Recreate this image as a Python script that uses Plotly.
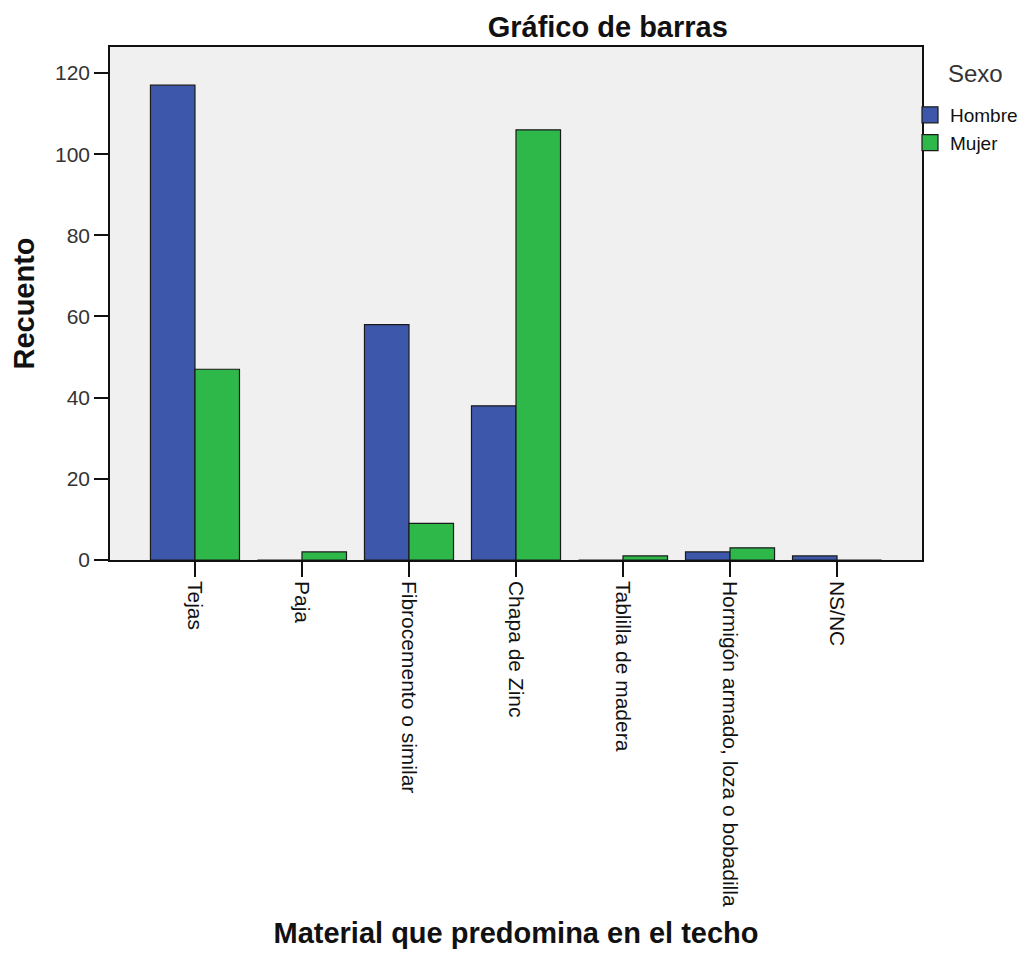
import plotly.graph_objects as go

categorias = ["Tejas", "Paja", "Fibrocemento o similar", "Chapa de Zinc",
              "Tablilla de madera", "Hormigón armado, loza o bobadilla", "NS/NC"]
hombre = [117, 0, 58, 38, 0, 2, 1]
mujer = [47, 2, 9, 106, 1, 3, 0]
y_ticks = [0, 20, 40, 60, 80, 100, 120]

FONT = "Liberation Sans, Arial, sans-serif"
C_H = "#3D57AB"
C_M = "#2EB84A"
EDGE = "#1a1a1a"

fig = go.Figure()
fig.add_trace(go.Bar(name="Hombre", x=categorias, y=hombre, showlegend=False,
                     marker=dict(color=C_H, line=dict(color=EDGE, width=1.2))))
fig.add_trace(go.Bar(name="Mujer", x=categorias, y=mujer, showlegend=False,
                     marker=dict(color=C_M, line=dict(color=EDGE, width=1.2))))
# legend entries (square swatches)
for nm, col in (("Hombre", C_H), ("Mujer", C_M)):
    fig.add_trace(go.Scatter(name=nm, x=[None], y=[None], mode="markers",
                             marker=dict(symbol="square", size=16, color=col,
                                         line=dict(color=EDGE, width=1.2))))

W, H = 1020, 947
L, R, T, B = 102, 106, 39, 395
PH = H - T - B
PW = W - L - R

fig.update_layout(
    width=W, height=H,
    margin=dict(l=L, r=R, t=T, b=B, autoexpand=False),
    paper_bgcolor="white", plot_bgcolor="#F0F0F0",
    barmode="group", bargap=0.168, bargroupgap=0,
    font=dict(family=FONT, size=21, color="#222"),
    title=dict(text="<b>Gráfico de barras</b>", x=0.613, xref="paper", xanchor="center",
               y=1 - 19 / H, yanchor="middle", yref="container", pad=dict(t=0, b=0),
               font=dict(family=FONT, size=29, color="#111")),
    showlegend=True,
    legend=dict(xref="container", yref="container",
                x=902 / W, xanchor="left", y=1 - 88 / H, yanchor="top",
                font=dict(family=FONT, size=19, color="#111"),
                itemwidth=30, tracegroupgap=0, bgcolor="rgba(0,0,0,0)",
                borderwidth=0, traceorder="normal", itemsizing="trace"),
    annotations=[dict(text="Sexo", xref="paper", yref="paper",
                      x=(967 - L) / PW, y=1 - (66 - T) / PH,
                      xanchor="center", yanchor="middle", showarrow=False,
                      font=dict(family=FONT, size=24, color="#333"))],
)

fig.update_xaxes(
    type="category", range=[-0.794, 6.794],
    tickangle=90, ticks="outside", ticklen=15, tickwidth=1.5, tickcolor="#111",
    showline=True, linecolor="#111", linewidth=1.5, mirror=True,
    showgrid=False, tickfont=dict(family=FONT, size=21, color="#111"),
    title=dict(text="<b>Material que predomina en el techo</b>", standoff=17,
               font=dict(family=FONT, size=29, color="#111")),
    automargin=False,
)
fig.update_yaxes(
    range=[0, 126.4], tickvals=y_ticks, ticks="outside", ticklen=14, tickwidth=1.5,
    tickcolor="#111", showline=True, linecolor="#111", linewidth=1.5, mirror=True,
    showgrid=False, zeroline=False, tickfont=dict(family=FONT, size=21, color="#333"),
    title=dict(text="<b>Recuento</b>", standoff=20,
               font=dict(family=FONT, size=29, color="#111")),
    automargin=False,
)

fig.write_html("out.html")
